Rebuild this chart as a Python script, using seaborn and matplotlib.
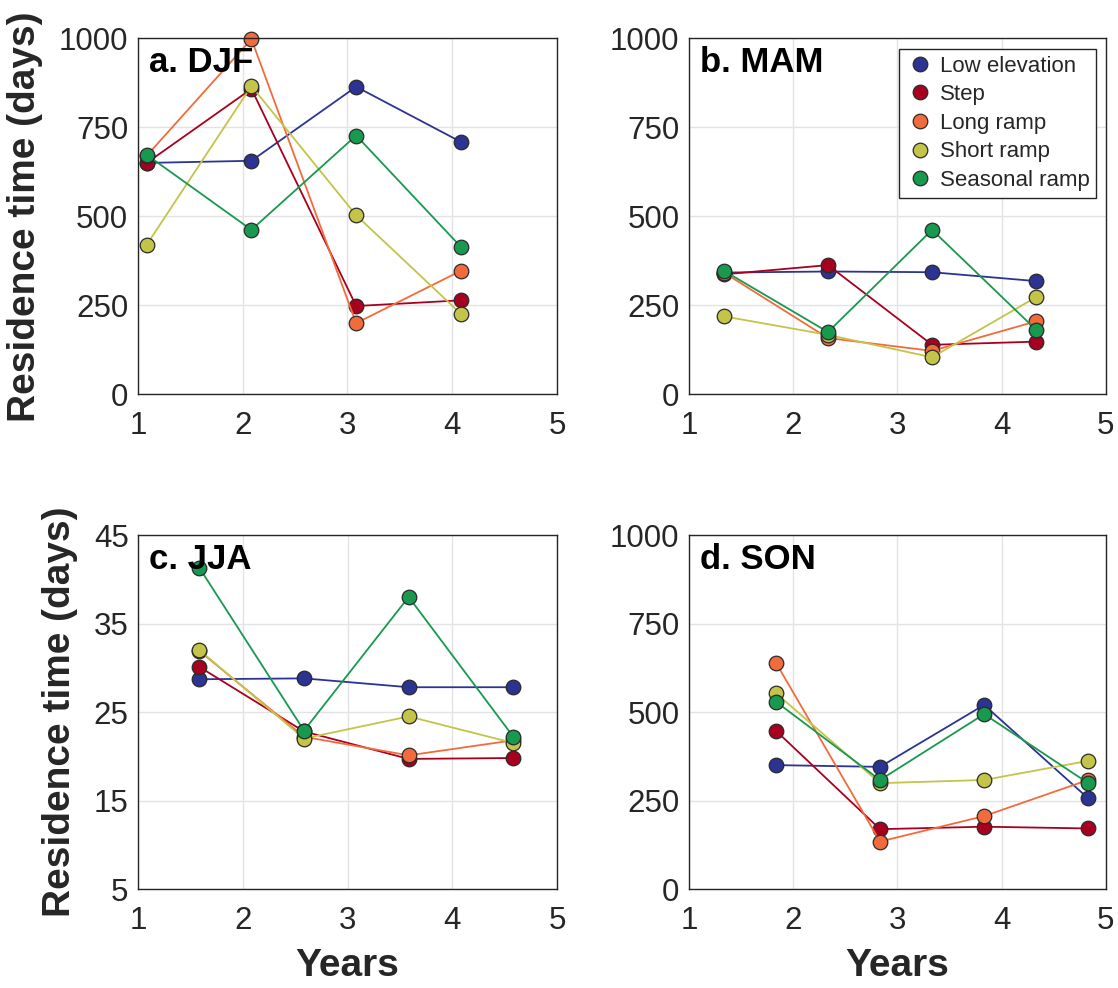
import numpy as np
import pandas as pd
import matplotlib
matplotlib.use("Agg")
import matplotlib.pyplot as plt
from matplotlib.lines import Line2D
import seaborn as sns

# Scenario names and colours
scenarios = ["Low elevation", "Step", "Long ramp", "Short ramp", "Seasonal ramp"]
colors = ["#2b3493", "#a8001f", "#f26b3c", "#c3c448", "#17994e"]

# Mid-season positions along the year axis
x_djf = [1.083, 2.083, 3.083, 4.083]
x_mam = [1.333, 2.333, 3.333, 4.333]
x_jja = [1.583, 2.583, 3.583, 4.583]
x_son = [1.833, 2.833, 3.833, 4.833]

# Residence time (days) per scenario, DJF
djf_low = [650, 656, 864, 709]
djf_step = [650, 858, 248, 264]
djf_long = [670, 998, 200, 347]
djf_short = [420, 866, 503, 226]
djf_seasonal = [673, 462, 727, 414]

# MAM
mam_low = [342, 345, 343, 318]
mam_step = [337, 363, 139, 148]
mam_long = [342, 158, 122, 205]
mam_short = [219, 167, 104, 273]
mam_seasonal = [347, 175, 462, 181]

# JJA
jja_low = [28.7, 28.8, 27.8, 27.8]
jja_step = [30.1, 22.8, 19.7, 19.8]
jja_long = [31.9, 22.2, 20.1, 21.8]
jja_short = [32.0, 22.0, 24.5, 21.5]
jja_seasonal = [41.3, 22.9, 38.0, 22.2]

# SON
son_low = [350, 345, 520, 256]
son_step = [447, 169, 176, 171]
son_long = [639, 134, 206, 308]
son_short = [553, 299, 308, 362]
son_seasonal = [529, 308, 494, 299]

panels = [
    ("a. DJF", x_djf, [djf_low, djf_step, djf_long, djf_short, djf_seasonal], [0, 250, 500, 750, 1000]),
    ("b. MAM", x_mam, [mam_low, mam_step, mam_long, mam_short, mam_seasonal], [0, 250, 500, 750, 1000]),
    ("c. JJA", x_jja, [jja_low, jja_step, jja_long, jja_short, jja_seasonal], [5, 15, 25, 35, 45]),
    ("d. SON", x_son, [son_low, son_step, son_long, son_short, son_seasonal], [0, 250, 500, 750, 1000]),
]
x_ticks = [1, 2, 3, 4, 5]

sns.set_theme(style="whitegrid")
plt.rcParams["font.family"] = ["Liberation Sans", "DejaVu Sans"]
plt.rcParams["axes.edgecolor"] = "#262626"
plt.rcParams["grid.color"] = "#e3e3e3"

fig = plt.figure(figsize=(11.18, 9.88), dpi=100)
rects = [
    (0.1234, 0.6009, 0.3748, 0.3603),
    (0.6165, 0.6009, 0.3724, 0.3603),
    (0.1237, 0.1002, 0.3745, 0.3583),
    (0.6165, 0.1002, 0.3724, 0.3583),
]

palette = dict(zip(scenarios, colors))

for i, (title, xs, series, yticks) in enumerate(panels):
    ax = fig.add_axes(rects[i])
    rows = []
    for name, vals in zip(scenarios, series):
        for xv, yv in zip(xs, vals):
            rows.append({"Years": xv, "value": yv, "scenario": name})
    df = pd.DataFrame(rows)
    sns.lineplot(data=df, x="Years", y="value", hue="scenario", hue_order=scenarios,
                 palette=palette, marker="o", markersize=10.5, markeredgecolor="#2a2a2a",
                 markeredgewidth=0.9, linewidth=1.3, sort=False, legend=False,
                 estimator=None, ax=ax, clip_on=False)
    ax.set_xlim(1, 5)
    ax.set_ylim(yticks[0], yticks[-1])
    ax.set_xticks(x_ticks)
    ax.set_yticks(yticks)
    ax.set_xticklabels([str(t) for t in x_ticks])
    ax.set_yticklabels([str(t) for t in yticks])
    ax.tick_params(axis="both", labelsize=22.5, colors="#262626", length=0)
    ax.tick_params(axis="x", pad=12)
    ax.tick_params(axis="y", pad=7)
    for sp in ax.spines.values():
        sp.set_color("#262626")
        sp.set_linewidth(1.0)
    ax.grid(True, color="#e3e3e3", linewidth=1.0)
    ax.set_axisbelow(True)
    ax.set_xlabel("Years" if i >= 2 else "", fontsize=28, fontweight="bold",
                  color="#262626", labelpad=9)
    ax.set_ylabel("Residence time (days)" if i % 2 == 0 else "", fontsize=28,
                  fontweight="bold", color="#262626", labelpad=11)
    ax.annotate(title, xy=(0, 1), xycoords="axes fraction", xytext=(8, -24.5),
                textcoords="offset points", ha="left", va="baseline",
                fontsize=25, fontweight="bold", color="black", zorder=10)
    if i == 1:
        handles = [Line2D([], [], linestyle="none", marker="o", markersize=10.5,
                          markerfacecolor=c, markeredgecolor="#2a2a2a",
                          markeredgewidth=0.9) for c in colors]
        leg = ax.legend(handles, scenarios, loc="upper right", fontsize=16,
                        frameon=True, fancybox=False, edgecolor="#262626",
                        framealpha=1, borderpad=0.3, labelspacing=0.34,
                        handletextpad=0.25, handlelength=1.3, borderaxespad=0,
                        bbox_to_anchor=(0.978, 0.970))
        leg.get_frame().set_linewidth(1.0)

fig.savefig("out.png", dpi=100)
